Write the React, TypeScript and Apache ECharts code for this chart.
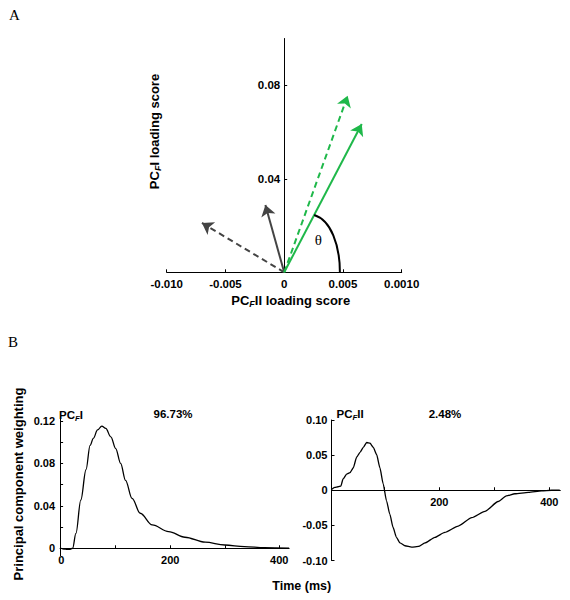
import { useEffect, useRef } from "react";
import * as echarts from "echarts";

// ---------- Panel A data ----------
const loadingTickValues = [-0.01, -0.005, 0, 0.005, 0.01];
const loadingTickLabels = ["-0.010", "-0.005", "0", "0.005", "0.0010"];
const pcILoadingTicks = [0.04, 0.08];

const vectorX = [0.0066, 0.0054, -0.0016, -0.007];
const vectorY = [0.0634, 0.0755, 0.0288, 0.0211];
const vectorGroup = ["green", "green", "grey", "grey"];
const vectorDashed = [false, true, false, true];

const thetaArcStart = [0.00255, 0.0245];
const thetaArcEnd = [0.00474, 0];
const thetaLabelAt = [0.0029, 0.0138];

// ---------- Panel B data ----------
const timeTicks = [100, 200, 300, 400];
const pcITimeLabels = [0, 200, 400];
const pcIITimeLabels = [200, 400];
const pcIWeightTicks = [0, 0.02, 0.04, 0.06, 0.08, 0.1, 0.12];
const pcIWeightLabels = [0, 0.04, 0.08, 0.12];
const pcIIWeightTicks = [-0.1, -0.05, 0, 0.05, 0.1];

const pcITime = [0, 5, 10, 15, 21, 27, 36, 45.5, 53, 59, 66.7, 74.5, 81.8, 91, 100, 109, 118, 130, 145, 167, 197, 227, 264, 300, 336, 373, 418];
const pcIWeight = [0, -0.0008, -0.001, -0.001, 0, 0.014, 0.0455, 0.074, 0.097, 0.1036, 0.1115, 0.1152, 0.113, 0.105, 0.094, 0.08, 0.064, 0.047, 0.033, 0.022, 0.0157, 0.0104, 0.0057, 0.0031, 0.0016, 0.0006, 0];

const pcIITime = [4, 10, 16, 21, 25, 31.5, 37.6, 43.6, 49.7, 55.8, 61.8, 68, 74, 80, 86, 92, 98, 104, 110, 116, 122, 128.5, 137.6, 149.7, 162, 174, 192, 210, 234.5, 259, 283, 307, 322, 337.6, 362, 386, 404, 419];
const pcIIWeight = [0.001, 0.004, 0.005, 0.006, 0.016, 0.023, 0.025, 0.032, 0.047, 0.054, 0.061, 0.068, 0.067, 0.061, 0.051, 0.032, 0.009, -0.015, -0.034, -0.053, -0.067, -0.075, -0.079, -0.081, -0.08, -0.075, -0.067, -0.06, -0.051, -0.039, -0.03, -0.016, -0.008, -0.005, -0.003, -0.001, 0, 0];

const pcIShare = "96.73%";
const pcIIShare = "2.48%";

// ---------- styling ----------
const SANS = "'Liberation Sans', Arial, sans-serif";
const SERIF = "'Liberation Serif', 'Times New Roman', serif";
const GREEN = "#1fb84a";
const GREY = "#444444";

const gridA = { left: 166.7, top: 38.5, width: 235, height: 233.8 };
const gridB1 = { left: 60.1, top: 416.7, width: 229, height: 139 };
const gridB2 = { left: 331.5, top: 420, width: 228.8, height: 140.5 };

const axisLine = { show: true, onZero: false, lineStyle: { color: "#000", width: 1 } };
const tickStyle = { color: "#000", width: 1 };

function labelStyle(size: number, margin: number) {
  return { color: "#000", fontFamily: SANS, fontWeight: "bold" as const, fontSize: size, margin };
}

function weightFmt(v: number) {
  if (Math.abs(v) < 1e-9) return "0";
  return v.toFixed(2);
}

function loadingFmt(v: number) {
  const i = loadingTickValues.findIndex((t) => Math.abs(t - v) < 1e-9);
  return i >= 0 ? loadingTickLabels[i] : "";
}

function subTitle(pre: string, sub: string, post: string, size: number) {
  return {
    text: `{m|${pre}}{s|${sub}}{m|${post}}`,
    rich: {
      m: { font: `bold ${size}px ${SANS}`, fill: "#000" },
      s: { font: `italic bold ${Math.round(size * 0.72)}px ${SANS}`, fill: "#000", padding: [Math.round(size * 0.5), 0, 0, 0] },
    },
  };
}

// pixel offset that moves an axis from the grid edge to the zero of the other axis
function zeroOffset(min: number, max: number, span: number) {
  return (-min / (max - min)) * span;
}

export default function App() {
  const ref = useRef<HTMLDivElement>(null);

  useEffect(() => {
    if (!ref.current) return;
    const chart = echarts.init(ref.current, undefined, { renderer: "svg" });

    const arrowSeries = vectorX.map((x, i) => ({
      type: "lines",
      coordinateSystem: "cartesian2d",
      xAxisIndex: 0,
      yAxisIndex: 0,
      symbol: ["none", "arrow"],
      symbolSize: 11,
      silent: true,
      z: vectorGroup[i] === "green" ? 4 : 3,
      lineStyle: {
        color: vectorGroup[i] === "green" ? GREEN : GREY,
        width: 2,
        opacity: 1,
        type: vectorDashed[i] ? [6, 4] : "solid",
        curveness: 0,
      },
      data: [{ coords: [[0, 0], [x, vectorY[i]]] }],
    }));

    const aXMin = -0.01, aXMax = 0.01;
    const b1YMin = -0.007, b1YMax = 0.124;
    const b2YMin = -0.1, b2YMax = 0.1;

    const option: any = {
      animation: false,
      backgroundColor: "#fff",
      grid: [
        { ...gridA, containLabel: false, outerBoundsMode: "none" },
        { ...gridB1, containLabel: false, outerBoundsMode: "none" },
        { ...gridB2, containLabel: false, outerBoundsMode: "none" },
      ],
      xAxis: [
        {
          gridIndex: 0,
          type: "value",
          min: aXMin,
          max: aXMax,
          axisLine,
          axisTick: { show: true, inside: true, length: 3, lineStyle: tickStyle, customValues: loadingTickValues },
          axisLabel: { ...labelStyle(11.5, 6), customValues: loadingTickValues, formatter: loadingFmt },
          splitLine: { show: false },
        },
        {
          gridIndex: 1,
          type: "value",
          min: -2,
          max: 418,
          offset: -zeroOffset(b1YMin, b1YMax, gridB1.height),
          axisLine,
          axisTick: { show: true, inside: true, length: 3, lineStyle: tickStyle, customValues: timeTicks },
          axisLabel: { ...labelStyle(11, 6), customValues: pcITimeLabels, formatter: (v: number) => String(v) },
          splitLine: { show: false },
        },
        {
          gridIndex: 2,
          type: "value",
          min: 4,
          max: 420,
          offset: -zeroOffset(b2YMin, b2YMax, gridB2.height),
          axisLine,
          axisTick: { show: true, inside: true, length: 3, lineStyle: tickStyle, customValues: timeTicks },
          axisLabel: { ...labelStyle(11, 6), customValues: pcIITimeLabels, formatter: (v: number) => String(v) },
          splitLine: { show: false },
        },
      ],
      yAxis: [
        {
          gridIndex: 0,
          type: "value",
          min: 0,
          max: 0.1,
          offset: -zeroOffset(aXMin, aXMax, gridA.width),
          axisLine,
          axisTick: { show: true, inside: true, length: 3, lineStyle: tickStyle, customValues: pcILoadingTicks },
          axisLabel: { ...labelStyle(11.5, 4), customValues: pcILoadingTicks, formatter: weightFmt },
          splitLine: { show: false },
        },
        {
          gridIndex: 1,
          type: "value",
          min: b1YMin,
          max: b1YMax,
          axisLine,
          axisTick: { show: true, inside: true, length: 3, lineStyle: tickStyle, customValues: pcIWeightTicks },
          axisLabel: { ...labelStyle(11, 5), customValues: pcIWeightLabels, formatter: weightFmt },
          splitLine: { show: false },
        },
        {
          gridIndex: 2,
          type: "value",
          min: b2YMin,
          max: b2YMax,
          axisLine,
          axisTick: { show: true, inside: true, length: 3, lineStyle: tickStyle, customValues: pcIIWeightTicks },
          axisLabel: { ...labelStyle(11, 4), customValues: pcIIWeightTicks, formatter: weightFmt },
          splitLine: { show: false },
        },
      ],
      series: [
        ...arrowSeries,
        {
          type: "custom",
          coordinateSystem: "cartesian2d",
          xAxisIndex: 0,
          yAxisIndex: 0,
          silent: true,
          z: 5,
          encode: { x: [0, 2], y: [1, 3] },
          data: [[thetaArcStart[0], thetaArcStart[1], thetaArcEnd[0], thetaArcEnd[1]]],
          renderItem: (_params: any, api: any) => {
            const p0 = api.coord([api.value(0), api.value(1)]);
            const p3 = api.coord([api.value(2), api.value(3)]);
            const lp = api.coord(thetaLabelAt);
            const dx = p3[0] - p0[0];
            const dy = p3[1] - p0[1];
            return {
              type: "group",
              children: [
                {
                  type: "bezierCurve",
                  shape: {
                    x1: p0[0], y1: p0[1],
                    cpx1: p0[0] + dx * 0.65, cpy1: p0[1] + dy * 0.09,
                    cpx2: p3[0], cpy2: p0[1] + dy * 0.52,
                    x2: p3[0], y2: p3[1],
                  },
                  style: { stroke: "#000", lineWidth: 2, fill: null },
                },
                {
                  type: "text",
                  x: lp[0],
                  y: lp[1],
                  style: { text: "θ", font: `15px ${SERIF}`, fill: "#000", align: "center", verticalAlign: "middle" },
                },
              ],
            };
          },
        },
        {
          type: "line",
          xAxisIndex: 1,
          yAxisIndex: 1,
          data: pcITime.map((t, i) => [t, pcIWeight[i]]),
          showSymbol: false,
          smooth: 0.35,
          smoothMonotone: "x",
          silent: true,
          lineStyle: { color: "#000", width: 1.3 },
        },
        {
          type: "line",
          xAxisIndex: 2,
          yAxisIndex: 2,
          data: pcIITime.map((t, i) => [t, pcIIWeight[i]]),
          showSymbol: false,
          smooth: 0.2,
          smoothMonotone: "x",
          silent: true,
          lineStyle: { color: "#000", width: 1.3 },
        },
      ],
      graphic: [
        { type: "text", left: 9, top: 7, style: { text: "A", font: `15px ${SERIF}`, fill: "#000" } },
        { type: "text", left: 8, top: 334, style: { text: "B", font: `15px ${SERIF}`, fill: "#000" } },
        {
          type: "text", x: 290.7, y: 300,
          style: { ...subTitle("PC", "F", "II loading score", 13), align: "center", verticalAlign: "middle" },
        },
        {
          type: "text", x: 154.6, y: 131.5, rotation: Math.PI / 2,
          style: { ...subTitle("PC", "F", "I loading score", 13), align: "center", verticalAlign: "middle" },
        },
        {
          type: "text", x: 18, y: 484, rotation: Math.PI / 2,
          style: { text: "Principal component weighting", font: `bold 13px ${SANS}`, fill: "#000", align: "center", verticalAlign: "middle" },
        },
        {
          type: "text", x: 301.7, y: 586,
          style: { text: "Time (ms)", font: `bold 12.5px ${SANS}`, fill: "#000", align: "center", verticalAlign: "middle" },
        },
        {
          type: "text", x: 59, y: 415,
          style: { ...subTitle("PC", "F", "I", 11.5), align: "left", verticalAlign: "middle" },
        },
        {
          type: "text", x: 173, y: 414,
          style: { text: pcIShare, font: `bold 11.5px ${SANS}`, fill: "#000", align: "center", verticalAlign: "middle" },
        },
        {
          type: "text", x: 336.5, y: 414,
          style: { ...subTitle("PC", "F", "II", 11.5), align: "left", verticalAlign: "middle" },
        },
        {
          type: "text", x: 445, y: 414,
          style: { text: pcIIShare, font: `bold 11.5px ${SANS}`, fill: "#000", align: "center", verticalAlign: "middle" },
        },
      ],
    };

    chart.setOption(option);
    return () => chart.dispose();
  }, []);

  return <div ref={ref} style={{ position: "absolute", left: 0, top: 0, width: 570, height: 600 }} />;
}
